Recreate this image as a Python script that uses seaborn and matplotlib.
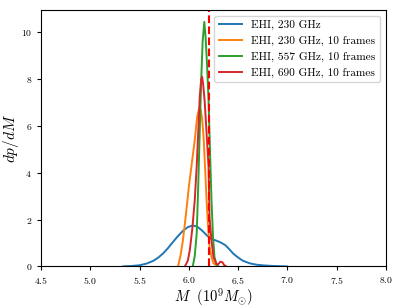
import numpy as np
import pandas as pd
import matplotlib
matplotlib.use('Agg')
import matplotlib.pyplot as plt
import seaborn as sns

# 字体设置 (Computer Modern 风格)
plt.rcParams['font.family'] = ['cmr10', 'DejaVu Serif']
plt.rcParams['mathtext.fontset'] = 'cm'
plt.rcParams['axes.formatter.use_mathtext'] = True
plt.rcParams['axes.unicode_minus'] = False

# 读取的曲线数据 (M, dp/dM)
m_230 = [5.33, 5.42, 5.5, 5.57, 5.64, 5.69, 5.74, 5.79, 5.84, 5.89, 5.94, 5.99, 6.04, 6.085, 6.13, 6.17,
         6.21, 6.245, 6.28, 6.32, 6.37, 6.41, 6.45, 6.5, 6.55, 6.62, 6.69, 6.77, 6.85, 7.0]
p_230 = [0.0, 0.02, 0.05, 0.12, 0.24, 0.38, 0.56, 0.79, 1.05, 1.3, 1.52, 1.68, 1.75, 1.7, 1.55, 1.38,
         1.22, 1.15, 1.1, 1.03, 0.91, 0.74, 0.55, 0.38, 0.24, 0.13, 0.07, 0.04, 0.02, 0.0]

m_230_10 = [5.89, 5.915, 5.94, 5.97, 6.0, 6.03, 6.06, 6.085, 6.105, 6.12, 6.135, 6.15, 6.165, 6.18, 6.195, 6.21, 6.23, 6.25, 6.3]
p_230_10 = [0.0, 0.45, 1.12, 2.2, 3.4, 4.4, 5.4, 6.4, 6.75, 6.7, 6.3, 5.5, 4.2, 2.83, 1.7, 0.84, 0.4, 0.13, 0.0]

m_557_10 = [6.04, 6.06, 6.08, 6.095, 6.11, 6.125, 6.14, 6.157, 6.17, 6.185, 6.2, 6.215, 6.23, 6.245, 6.26, 6.28, 6.3]
p_557_10 = [0.0, 0.45, 1.41, 3.4, 5.7, 7.9, 9.6, 10.45, 9.8, 8.6, 7.1, 4.9, 2.83, 1.3, 0.4, 0.1, 0.0]

m_690_10 = [5.96, 5.99, 6.01, 6.035, 6.06, 6.08, 6.095, 6.11, 6.125, 6.135, 6.145, 6.16, 6.18, 6.2, 6.21, 6.23,
            6.25, 6.28, 6.3, 6.32, 6.34, 6.36, 6.38]
p_690_10 = [0.0, 0.25, 0.7, 1.6, 2.83, 4.3, 5.7, 7.2, 8.0, 8.1, 7.8, 7.1, 5.7, 4.26, 2.1, 1.1,
            0.4, 0.1, 0.1, 0.2, 0.18, 0.05, 0.0]

labels = ['EHI, 230 GHz', 'EHI, 230 GHz, 10 frames', 'EHI, 557 GHz, 10 frames', 'EHI, 690 GHz, 10 frames']
m_true = 6.2

series = [(m_230, p_230), (m_230_10, p_230_10), (m_557_10, p_557_10), (m_690_10, p_690_10)]
frames = []
for lab, (m, p) in zip(labels, series):
    frames.append(pd.DataFrame({'M': m, 'p': p, 'run': lab}))
df = pd.concat(frames, ignore_index=True)

fig, ax = plt.subplots(figsize=(3.99, 3.08), dpi=100)
sns.lineplot(data=df, x='M', y='p', hue='run', hue_order=labels,
             palette=sns.color_palette('tab10', 4), sort=False, estimator=None,
             linewidth=1.4, ax=ax)
ax.axvline(m_true, color='red', linestyle='--', linewidth=1.5)

ax.set_xlim(4.5, 8.0)
ax.set_ylim(0, 10.95)
ax.set_xticks(np.arange(4.5, 8.01, 0.5))
ax.set_yticks(np.arange(0, 11, 2))
ax.tick_params(labelsize=7, length=3)
ax.set_xlabel(r'$M\ \ (10^9 M_{\odot})$', fontsize=10.5, labelpad=0)
ax.set_ylabel(r'$dp/dM$', fontsize=11, labelpad=0)
ax.legend(loc='upper right', fontsize=8.1, handlelength=2.1, borderaxespad=0.5)

fig.subplots_adjust(left=0.103, right=0.967, top=0.967, bottom=0.135)
fig.savefig('out.png', dpi=100)
